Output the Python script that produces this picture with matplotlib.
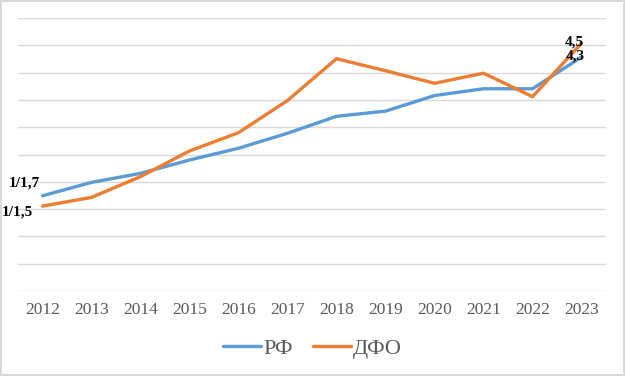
import matplotlib.pyplot as plt

years = ['2012', '2013', '2014', '2015', '2016', '2017',
         '2018', '2019', '2020', '2021', '2022', '2023']
rf = [3.49, 3.98, 4.31, 4.80, 5.23, 5.78, 6.40, 6.59, 7.16, 7.41, 7.41, 8.57]
dfo = [3.11, 3.43, 4.19, 5.13, 5.80, 6.98, 8.51, 8.07, 7.61, 7.98, 7.12, 9.08]
labels_rf = ('1/1,7', '4,3')
labels_dfo = ('1/1,5', '4,5')

fig = plt.figure(figsize=(6.25, 3.76), dpi=100)
fig.patch.set_edgecolor('#D9D9D9')
fig.patch.set_linewidth(1.5)
ax = fig.add_axes([0.0288, 0.226, 0.9408, 0.726])

x = range(len(years))
ax.plot(x, rf, color='#5B9BD5', linewidth=2.4, label='РФ', solid_capstyle='round')
ax.plot(x, dfo, color='#ED7D31', linewidth=2.4, label='ДФО', solid_capstyle='round')

ax.set_xlim(-0.5, len(years) - 0.5)
ax.set_ylim(0, 10)
ax.set_yticks(range(0, 11))
ax.set_yticklabels([])
ax.tick_params(axis='y', length=0)
ax.tick_params(axis='x', length=0, pad=8)
ax.set_xticks(list(x))
ax.set_xticklabels(years, fontfamily='Liberation Serif', fontsize=12.5, color='#595959')
ax.grid(axis='y', color='#D9D9D9', linewidth=1)
ax.set_axisbelow(True)
for s in ax.spines.values():
    s.set_visible(False)

bold = dict(fontfamily='Liberation Serif', fontweight='bold', fontsize=11, color='black')
ax.annotate(labels_rf[0], (0, rf[0]), xytext=(-2, 9), textcoords='offset points',
            ha='right', va='center', **bold)
ax.annotate(labels_dfo[0], (0, dfo[0]), xytext=(-7, -4), textcoords='offset points',
            ha='right', va='center', **bold)
ax.annotate(labels_rf[1], (11, rf[-1]), xytext=(-11, 1), textcoords='offset points',
            ha='left', va='center', **bold)
ax.annotate(labels_dfo[1], (11, dfo[-1]), xytext=(-12, 1), textcoords='offset points',
            ha='left', va='center', **bold)

fig.legend(loc='center', bbox_to_anchor=(0.5, 0.072), ncol=2, frameon=False,
           prop={'family': 'Liberation Serif', 'size': 16}, labelcolor='#595959',
           handlelength=1.7, handletextpad=0.1, columnspacing=0.9)

fig.savefig('out.png', dpi=100)
